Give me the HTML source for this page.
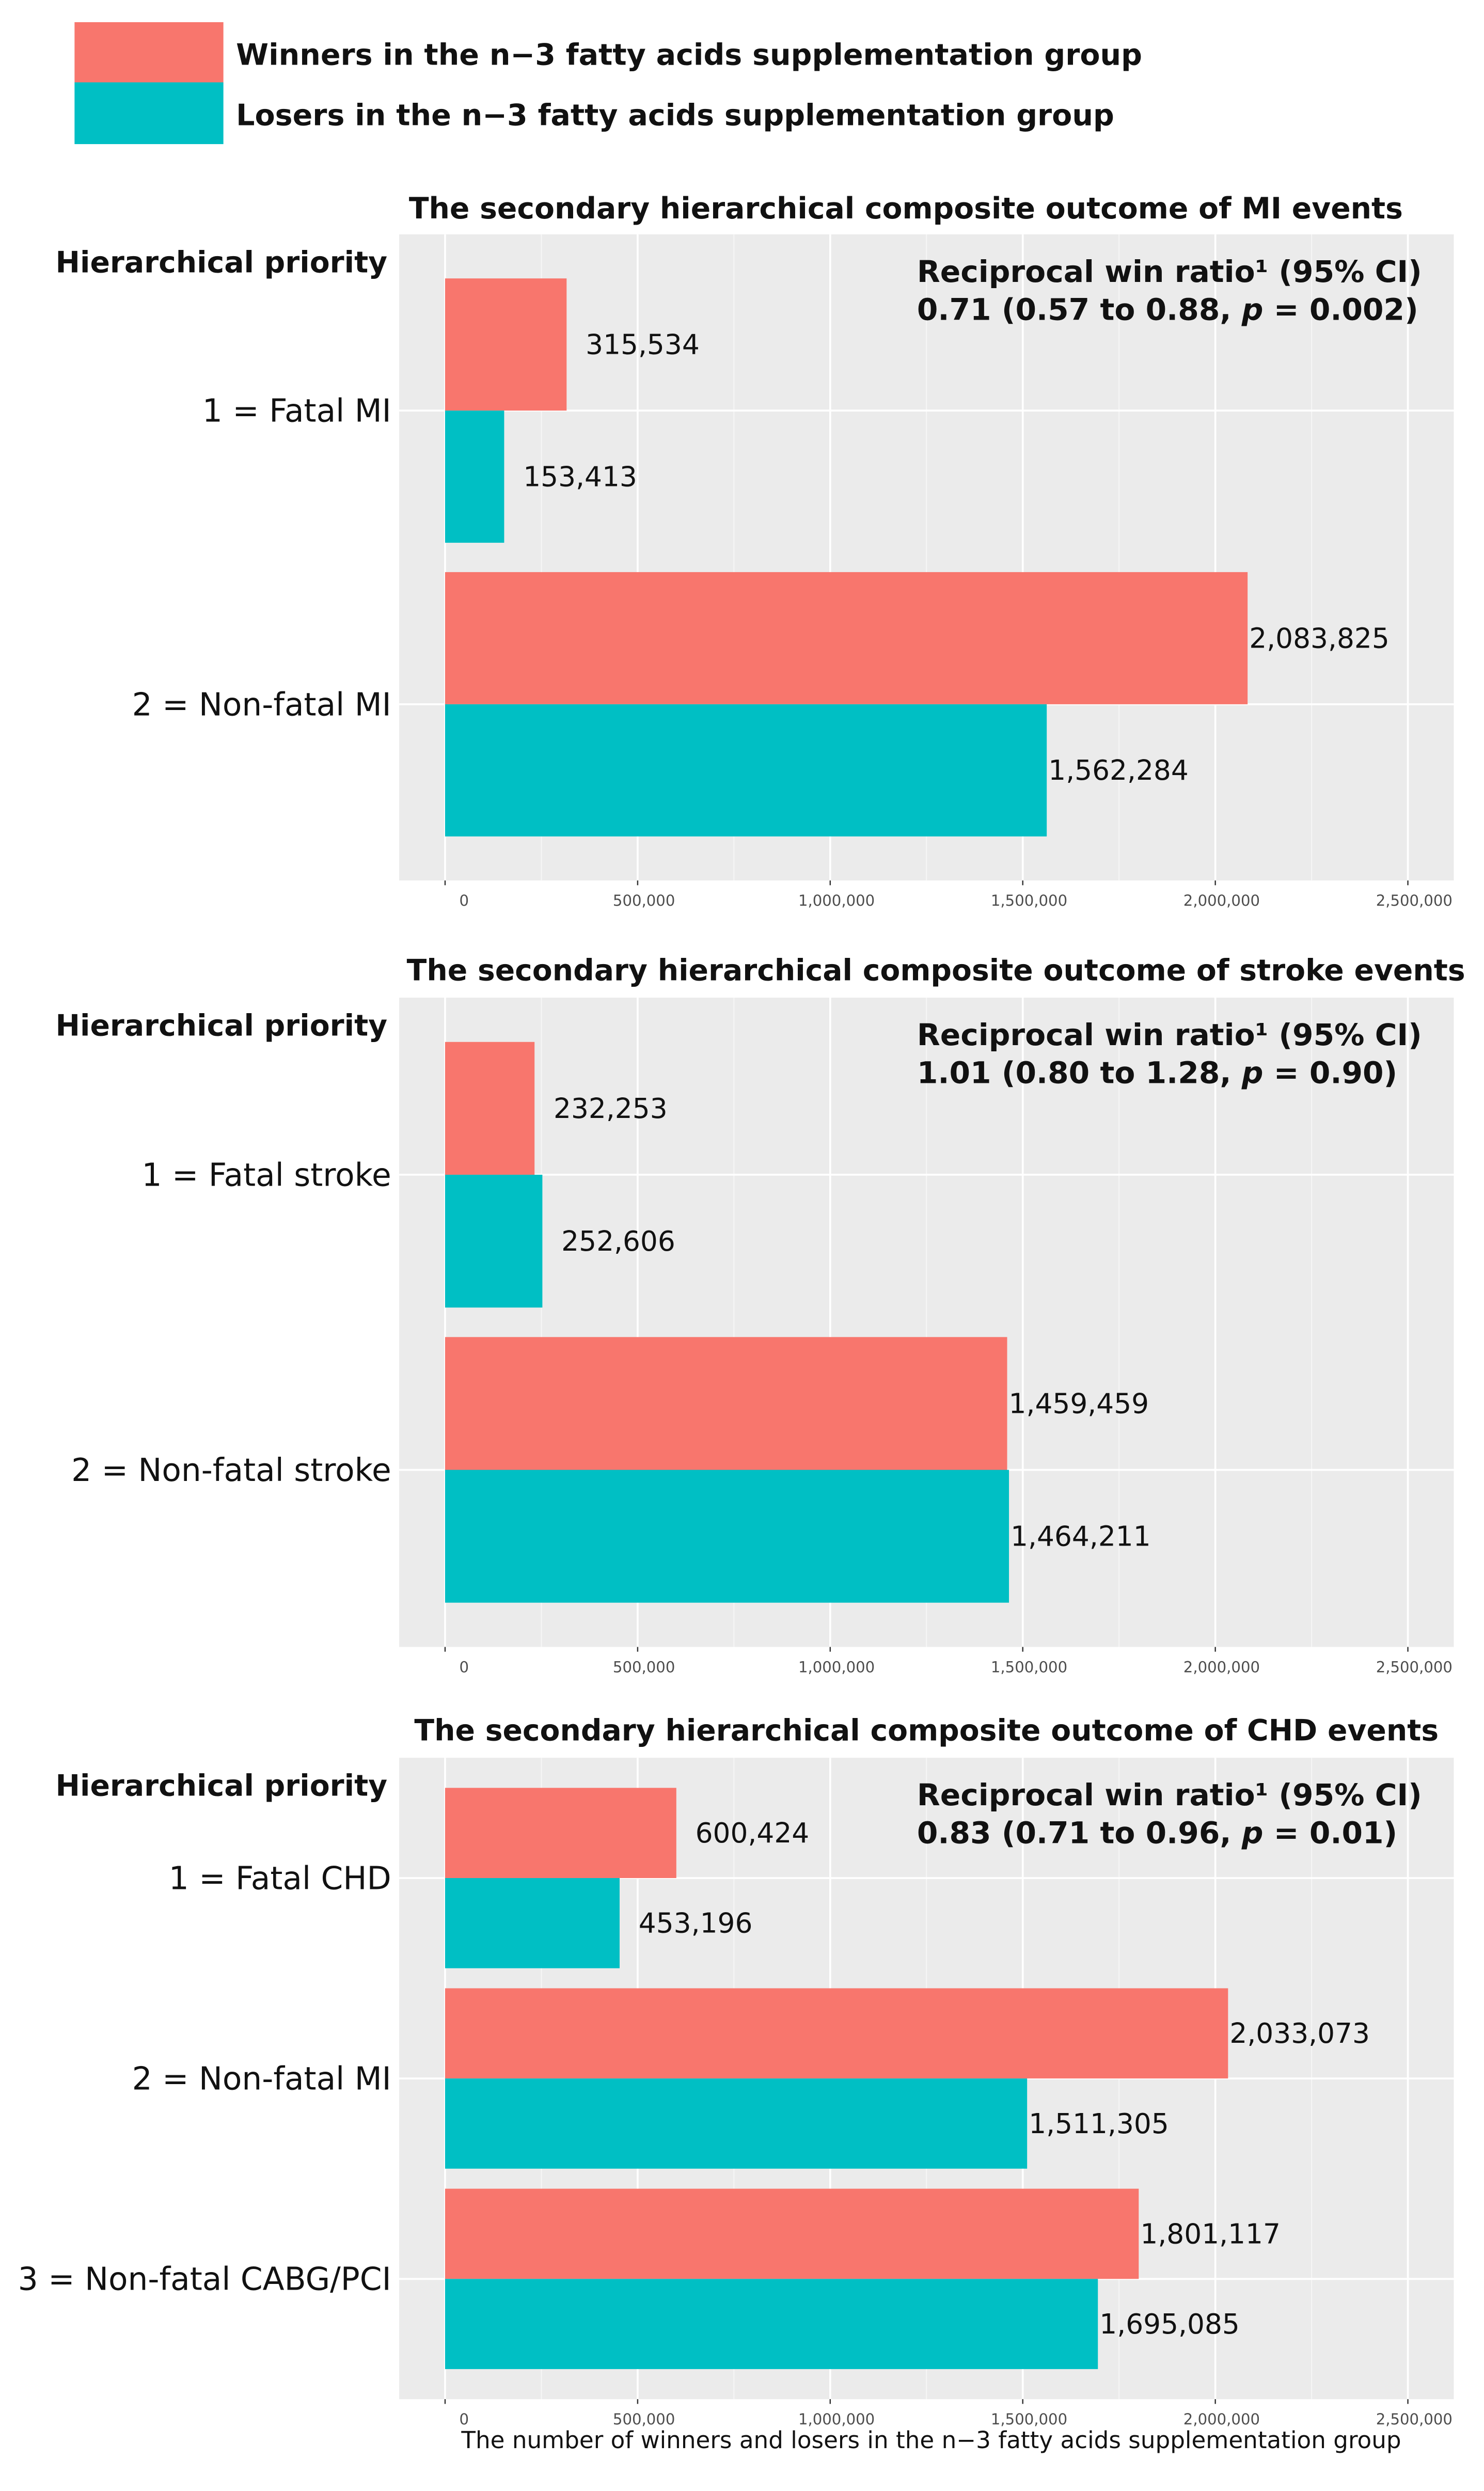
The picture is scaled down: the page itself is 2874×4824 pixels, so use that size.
<!DOCTYPE html>
<html><head><meta charset="utf-8">
<style>
html,body{margin:0;padding:0;background:#fff;}
svg{display:block;}
text{font-family:"DejaVu Sans","Liberation Sans",sans-serif;}
</style></head>
<body>
<svg id="chart" width="2874" height="4824" viewBox="0 0 937 1573" xmlns="http://www.w3.org/2000/svg">
  <g>
    <rect x="47" y="14" width="94" height="38" fill="#F8766D"/>
    <rect x="47" y="52" width="94" height="39" fill="#00BFC4"/>
    <text x="149" y="41" font-size="18.6" font-weight="bold" fill="#111">Winners in the n−3 fatty acids supplementation group</text>
    <text x="149" y="79" font-size="18.6" font-weight="bold" fill="#111">Losers in the n−3 fatty acids supplementation group</text>
  </g>
  <g id="panels"></g>
  <text x="588" y="1546" font-size="14.75" text-anchor="middle" fill="#111">The number of winners and losers in the n−3 fatty acids supplementation group</text>
</svg>
<script>
// Data
const panelTitles = [
  "The secondary hierarchical composite outcome of MI events",
  "The secondary hierarchical composite outcome of stroke events",
  "The secondary hierarchical composite outcome of CHD events"
];
const categoriesMI = ["1 = Fatal MI", "2 = Non-fatal MI"];
const winnersMI = [315534, 2083825];
const losersMI = [153413, 1562284];
const categoriesStroke = ["1 = Fatal stroke", "2 = Non-fatal stroke"];
const winnersStroke = [232253, 1459459];
const losersStroke = [252606, 1464211];
const categoriesCHD = ["1 = Fatal CHD", "2 = Non-fatal MI", "3 = Non-fatal CABG/PCI"];
const winnersCHD = [600424, 2033073, 1801117];
const losersCHD = [453196, 1511305, 1695085];
const ratioLine1 = ["Reciprocal win ratio¹ (95% CI)", "Reciprocal win ratio¹ (95% CI)", "Reciprocal win ratio¹ (95% CI)"];
const ratioEst = ["0.71 (0.57 to 0.88, ", "1.01 (0.80 to 1.28, ", "0.83 (0.71 to 0.96, "];
const ratioP = ["= 0.002)", "= 0.90)", "= 0.01)"];
const xTicks = [0, 500000, 1000000, 1500000, 2000000, 2500000];
const xTickLabels = ["0", "500,000", "1,000,000", "1,500,000", "2,000,000", "2,500,000"];

const NS = "http://www.w3.org/2000/svg";
const root = document.getElementById("panels");
function mk(tag, attrs, parent, txt) {
  const e = document.createElementNS(NS, tag);
  for (const k in attrs) e.setAttribute(k, attrs[k]);
  if (txt !== undefined) e.textContent = txt;
  parent.appendChild(e);
  return e;
}
function fmt(v) { return v.toLocaleString("en-US"); }

const layout = [
  {top: 148, bottom: 556, titleY: 138, titleX: 572, cats: categoriesMI, w: winnersMI, l: losersMI, key: "mi"},
  {top: 630, bottom: 1040, titleY: 619, titleX: 591, cats: categoriesStroke, w: winnersStroke, l: losersStroke, key: "stroke"},
  {top: 1110, bottom: 1515, titleY: 1099, titleX: 585, cats: categoriesCHD, w: winnersCHD, l: losersCHD, key: "chd"}
];
const PL = 252, PR = 918, X0 = 281, XMAXPX = 889, XMAX = 2500000;
function xs(v) { return X0 + (v / XMAX) * (XMAXPX - X0); }

layout.forEach((p, pi) => {
  const g = mk("g", {}, root);
  
  
  const n = p.cats.length;
  const step = (p.bottom - p.top) / (n - 1 + 1.2);
  function ys(i) { return p.top + step * (0.6 + i); }
  const bg = mk("rect", {x: PL, y: p.top, width: PR - PL, height: p.bottom - p.top, fill: "#EBEBEB"}, g);
  
  
  for (let i = 0; i < xTicks.length; i++) {
    const mv = xTicks[i] + 250000;
    if (xs(mv) < PR) {
      const ln = mk("line", {x1: xs(mv), x2: xs(mv), y1: p.top, y2: p.bottom, stroke: "#F7F7F7", "stroke-width": 0.6}, g);
      
      
    }
  }
  xTicks.forEach((t, i) => {
    const ln = mk("line", {x1: xs(t), x2: xs(t), y1: p.top, y2: p.bottom, stroke: "#fff", "stroke-width": 1.2}, g);
    
    
    const tk = mk("line", {x1: xs(t), x2: xs(t), y1: p.bottom, y2: p.bottom + 3, stroke: "#333", "stroke-width": 0.8}, g);
    
    
    const lb = mk("text", {x: xs(t) + (i === 0 ? 12 : 4), y: p.bottom + 16, "font-size": 9.5, fill: "#4D4D4D", "text-anchor": "middle"}, g, xTickLabels[i]);
    
    
  });
  const bh = step * 0.45;
  p.cats.forEach((c, i) => {
    const yc = ys(i);
    const hg = mk("line", {x1: PL, x2: PR, y1: yc, y2: yc, stroke: "#fff", "stroke-width": 1.2}, g);
    
    
    const rw = mk("rect", {x: X0, y: yc - bh, width: xs(p.w[i]) - X0, height: bh, fill: "#F8766D"}, g);
    
    
    const rl = mk("rect", {x: X0, y: yc, width: xs(p.l[i]) - X0, height: bh, fill: "#00BFC4"}, g);
    
    
    const small = p.w[i] < 1000000;
    const tw = mk("text", {x: xs(p.w[i]) + (small ? 12 : 1), y: yc - bh / 2 + 6, "font-size": 17.4, fill: "#111"}, g, fmt(p.w[i]));
    
    
    const smallL = p.l[i] < 1000000;
    const tl = mk("text", {x: xs(p.l[i]) + (smallL ? 12 : 1), y: yc + bh / 2 + 6, "font-size": 17.4, fill: "#111"}, g, fmt(p.l[i]));
    
    
    const cl = mk("text", {x: 247, y: yc + 7, "font-size": 20, fill: "#111", "text-anchor": "end"}, g, c);
    
    
  });
  const tt = mk("text", {x: p.titleX, y: p.titleY, "font-size": 18.5, "font-weight": "bold", fill: "#111", "text-anchor": "middle"}, g, panelTitles[pi]);
  
  
  const hp = mk("text", {x: 35, y: p.top + 24, "font-size": 18.5, "font-weight": "bold", fill: "#111"}, g, "Hierarchical priority");
  
  
  const r1 = mk("text", {x: 579, y: p.top + 30, "font-size": 19, "font-weight": "bold", fill: "#111"}, g, ratioLine1[pi]);
  
  
  const r2 = mk("text", {x: 579, y: p.top + 54, "font-size": 19, "font-weight": "bold", fill: "#111"}, g);
  
  
  mk("tspan", {}, r2, ratioEst[pi]);
  mk("tspan", {"font-style": "italic"}, r2, "p");
  mk("tspan", {}, r2, " " + ratioP[pi]);
});
</script>
</body></html>
